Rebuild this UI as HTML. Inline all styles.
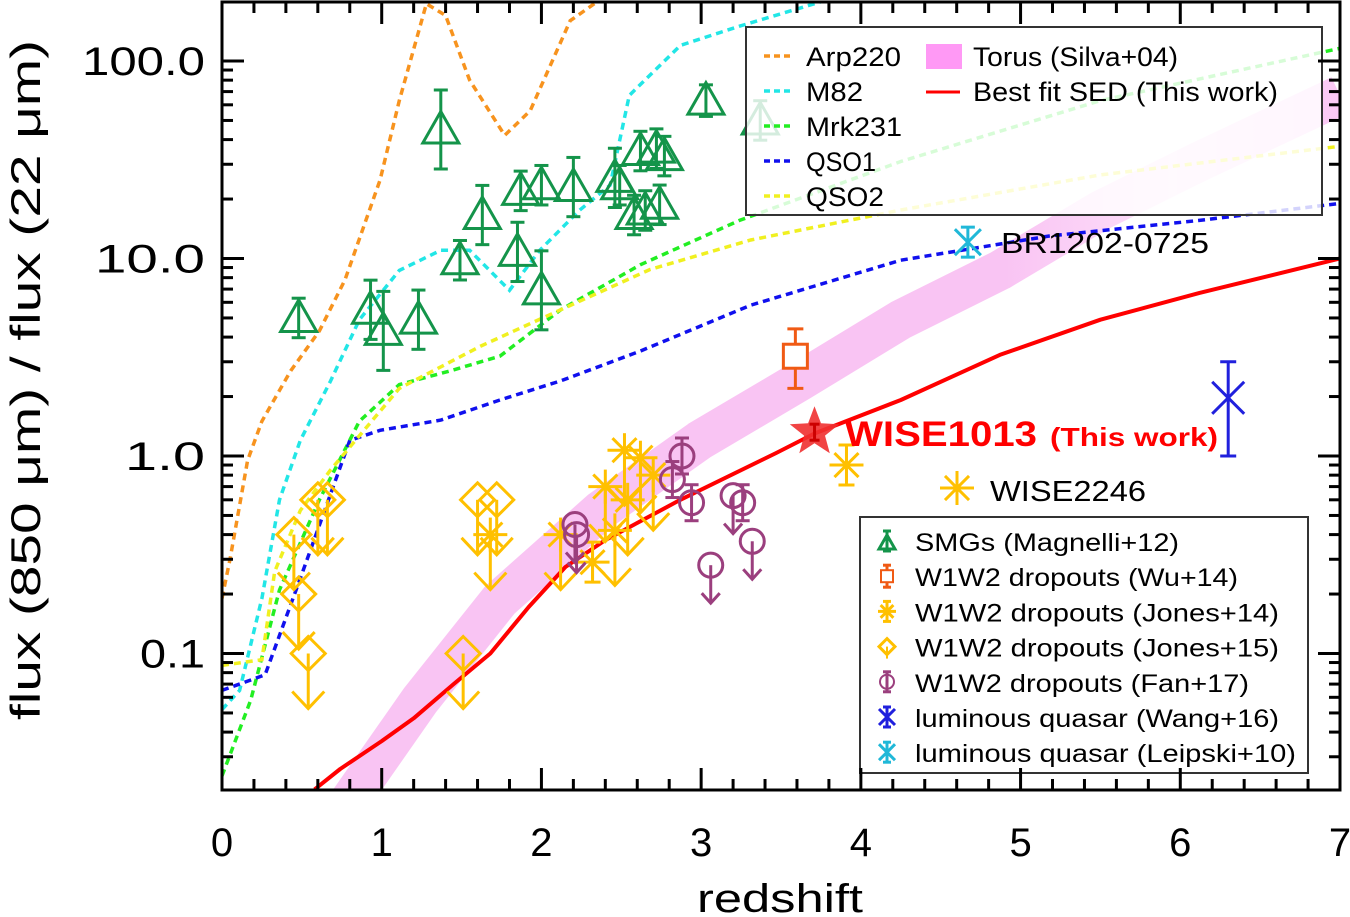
<!DOCTYPE html>
<html><head><meta charset="utf-8"><style>
html,body{margin:0;padding:0;background:#fff;}
svg{display:block;font-family:"Liberation Sans",sans-serif;}
</style></head><body>
<svg id="chart" width="1350" height="917" viewBox="0 0 1350 917">
<defs>
<linearGradient id="torusGrad" gradientUnits="userSpaceOnUse" x1="222" y1="0" x2="1340" y2="0">
<stop offset="0" stop-color="#f9c4f3"/><stop offset="0.7" stop-color="#f9c4f3"/><stop offset="0.85" stop-color="#fde0fa"/><stop offset="1" stop-color="#fbc8f5"/>
</linearGradient>
<clipPath id="plotClip"><rect x="222" y="2" width="1118" height="788"/></clipPath>
</defs>
<g id="plot" clip-path="url(#plotClip)"></g>
<g id="legend1"></g>
<g id="legend2"></g>
<g id="axes"></g>
</svg>
<script>
// ---- data ----
const arp220Z=[0,0.05,0.16,0.25,0.43,0.61,0.77,0.99,1.11,1.28,1.4,1.55,1.77,1.93,2.18,2.37];
const arp220V=[0.19,0.3,0.95,1.5,2.7,4.3,7.8,25,63,195,170,80,42,56,160,205];
const m82Z=[0,0.11,0.25,0.36,0.49,0.68,0.86,1.11,1.37,1.55,1.8,1.99,2.24,2.43,2.55,2.87,3.24,3.8];
const m82V=[0.052,0.065,0.19,0.6,1.2,2.4,4.9,8.7,11,11,6.9,11,17.6,23.5,67,120,150,205];
const mrk231Z=[0,0.18,0.36,0.61,0.86,1.11,1.43,1.74,2.12,2.62,3.24,4.25,5.5,7];
const mrk231V=[0.024,0.058,0.21,0.6,1.5,2.3,2.7,3.2,5.5,9.3,15.6,31,63,116];
const qso1Z=[0,0.27,0.49,0.8,0.99,1.37,1.74,2.12,2.62,3.31,4.25,5.18,6.12,7];
const qso1V=[0.065,0.078,0.24,1.2,1.35,1.52,1.92,2.4,3.4,5.8,9.8,13,15.6,19];
const qso2Z=[0,0.25,0.33,0.49,0.68,1.11,1.62,2.12,2.68,3.31,4.25,5.5,7];
const qso2V=[0.087,0.093,0.26,0.53,0.85,2.2,3.6,5.5,8.8,12.4,17.6,26.5,37];
const bestZ=[0.58,0.74,1.0,1.2,1.45,1.68,1.92,2.15,2.4,2.87,3.47,3.71,4.25,4.87,5.5,6.12,7];
const bestV=[0.0205,0.026,0.036,0.047,0.07,0.1,0.172,0.274,0.375,0.6,1.035,1.3,1.92,3.25,4.9,6.7,10];
const torusZ=[0.8,1.24,1.74,2.37,2.99,3.62,4.25,4.87,5.5,6.12,7];
const torusV=[0.018,0.058,0.187,0.53,1.2,2.4,4.9,8.7,17.5,31,67];
const smgZ=[0.48,0.93,1.01,1.23,1.37,1.49,1.63,1.85,1.87,2.0,2.0,2.2,2.46,2.49,2.58,2.62,2.65,2.72,2.74,2.77,3.03,3.37];
const smgV=[5.0,5.5,4.3,4.9,45,9.8,16.6,10.8,22,23.5,6.9,23,25.6,23.5,16.6,35,17.5,36,18.7,33,63,50];
const smgErr=[0.1,0.15,0.2,0.15,0.2,0.1,0.15,0.15,0.1,0.1,0.2,0.15,0.15,0.1,0.1,0.1,0.1,0.1,0.1,0.1,0.08,0.1];
const wuZ=[3.59], wuV=[3.2], wuLo=[2.2], wuHi=[4.4];
const wangZ=[6.3], wangV=[1.97], wangLo=[1.0], wangHi=[3.0];
const leipZ=[4.67], leipV=[12.1];
const jones14Z=[1.68,2.12,2.32,2.4,2.52,2.62,2.54,2.7,2.46,3.91];
const jones14V=[0.4,0.4,0.29,0.7,1.07,0.98,0.6,0.8,0.42,0.9];
const jones14Lim=[1,1,0,1,1,1,1,1,1,0];
const jones15Z=[0.45,0.48,0.54,0.6,0.66,1.6,1.72,1.51];
const jones15V=[0.4,0.2,0.1,0.6,0.6,0.6,0.6,0.1];
const fanZ=[2.21,2.22,2.88,2.82,2.94,3.06,3.2,3.26,3.32];
const fanV=[0.45,0.4,1.0,0.76,0.58,0.28,0.63,0.58,0.37];
const fanLim=[1,1,0,0,0,1,1,0,1];
const starZ=[3.71], starV=[1.32];
const xTicks=[0,1,2,3,4,5,6,7];
const yTicks=[0.1,1,10,100];
const yTickLabels=["0.1","1.0","10.0","100.0"];
// ---- axes ----
const X0=222,X1=1340,Y0=2,Y1=790;
const xs=z=>X0+z*(X1-X0)/7;
const ys=v=>456-197.5*Math.log10(v);
const NS="http://www.w3.org/2000/svg";
function mk(tag,attrs,parent){const e=document.createElementNS(NS,tag);for(const k in attrs)e.setAttribute(k,attrs[k]);parent.appendChild(e);return e;}
const plot=document.getElementById('plot');
const axes=document.getElementById('axes');
function poly(Z,V){return Z.map((z,i)=>xs(z).toFixed(1)+','+ys(V[i]).toFixed(1)).join(' ');}
let tor=mk('polyline',{points:poly(torusZ,torusV),fill:'none',stroke:'url(#torusGrad)','stroke-width':40,'stroke-linejoin':'round'},plot);


const tmpl=[[arp220Z,arp220V,'#f7931e','arp220-line'],[m82Z,m82V,'#22e6e6','m82-line'],[mrk231Z,mrk231V,'#22ee22','mrk231-line'],[qso1Z,qso1V,'#1010ee','qso1-line'],[qso2Z,qso2V,'#f0f020','qso2-line']];
tmpl.forEach(t=>{const p=mk('polyline',{points:poly(t[0],t[1]),fill:'none',stroke:t[2],'stroke-width':3.5,'stroke-dasharray':'7 5'},plot);

});
let best=mk('polyline',{points:poly(bestZ,bestV),fill:'none',stroke:'#ff0000','stroke-width':4,'stroke-linejoin':'round'},plot);


const G='#14944a',Y='#ffc000',P='#9b3f7e';
function arrow(g,x,y,c){mk('line',{x1:x,y1:y,x2:x,y2:y+55,stroke:c,'stroke-width':3},g);mk('polyline',{points:`${x-16},${y+38} ${x},${y+55} ${x+16},${y+38}`,fill:'none',stroke:c,'stroke-width':3},g);}
function errbar(g,x,yl,yh,c,w){mk('line',{x1:x,y1:yl,x2:x,y2:yh,stroke:c,'stroke-width':3},g);mk('line',{x1:x-w,y1:yl,x2:x+w,y2:yl,stroke:c,'stroke-width':3},g);mk('line',{x1:x-w,y1:yh,x2:x+w,y2:yh,stroke:c,'stroke-width':3},g);}
function tri(g,x,y,c,s){mk('polygon',{points:`${x},${y-s} ${x-s},${y+s*0.75} ${x+s},${y+s*0.75}`,fill:'none',stroke:c,'stroke-width':3},g);}
function diamond(g,x,y,c,s){mk('polygon',{points:`${x},${y-s} ${x+s},${y} ${x},${y+s} ${x-s},${y}`,fill:'none',stroke:c,'stroke-width':3},g);}
function aster(g,x,y,c,s){for(let a=0;a<4;a++){const t=a*Math.PI/4;mk('line',{x1:x-s*Math.cos(t),y1:y-s*Math.sin(t),x2:x+s*Math.cos(t),y2:y+s*Math.sin(t),stroke:c,'stroke-width':3},g);}}
function cross(g,x,y,c,s){mk('line',{x1:x-s,y1:y-s,x2:x+s,y2:y+s,stroke:c,'stroke-width':3},g);mk('line',{x1:x-s,y1:y+s,x2:x+s,y2:y-s,stroke:c,'stroke-width':3},g);}
smgZ.forEach((z,i)=>{const g=mk('g',{},plot);


const x=xs(z),y=ys(smgV[i]);errbar(g,x,y-197.5*smgErr[i],y+197.5*smgErr[i],G,7);tri(g,x,y,G,18);});
jones15Z.forEach((z,i)=>{const g=mk('g',{},plot);


const x=xs(z),y=ys(jones15V[i]);diamond(g,x,y,Y,17);arrow(g,x,y,Y);});
jones14Z.forEach((z,i)=>{const g=mk('g',{},plot);


const x=xs(z),y=ys(jones14V[i]);aster(g,x,y,Y,17);if(jones14Lim[i])arrow(g,x,y,Y);else errbar(g,x,y-20,y+20,Y,8);});
fanZ.forEach((z,i)=>{const g=mk('g',{},plot);


const x=xs(z),y=ys(fanV[i]);mk('circle',{cx:x,cy:y,r:12,fill:'none',stroke:P,'stroke-width':3},g);
if(fanLim[i]){mk('line',{x1:x,y1:y,x2:x,y2:y+38,stroke:P,'stroke-width':3},g);mk('polyline',{points:`${x-9},${y+28} ${x},${y+38} ${x+9},${y+28}`,fill:'none',stroke:P,'stroke-width':3},g);}
else errbar(g,x,y-18,y+18,P,7);});
wuZ.forEach((z,i)=>{const g=mk('g',{},plot);


const x=xs(z);errbar(g,x,ys(wuLo[i]),ys(wuHi[i]),'#f05a14',8);mk('rect',{x:x-12,y:ys(wuV[i])-12,width:24,height:24,fill:'#fff',stroke:'#f05a14','stroke-width':3},g);});
wangZ.forEach((z,i)=>{const g=mk('g',{},plot);


const x=xs(z);errbar(g,x,ys(wangLo[i]),ys(wangHi[i]),'#2020dd',8);cross(g,x,ys(wangV[i]),'#2020dd',16);});
leipZ.forEach((z,i)=>{const g=mk('g',{},plot);


const x=xs(z),y=ys(leipV[i]);errbar(g,x,y-15,y+15,'#20b8d8',7);cross(g,x,y,'#20b8d8',13);});
starZ.forEach((z,i)=>{const x=xs(z),y=ys(starV[i]);let pts=[];for(let k=0;k<10;k++){const r=k%2?11:26,a=-Math.PI/2+k*Math.PI/5;pts.push((x+r*Math.cos(a)).toFixed(1)+','+(y+r*Math.sin(a)).toFixed(1));}
const s=mk('polygon',{points:pts.join(' '),fill:'#f03030','fill-opacity':0.9},plot);


errbar(plot,x,y-8,y+8,'#c00',5);});
function txt(p,x,y,s,attrs,name,len){const t=mk('text',Object.assign({x:x,y:y},attrs),p);t.textContent=s;
if(len){t.setAttribute('textLength',len);t.setAttribute('lengthAdjust','spacingAndGlyphs');}

return t;}
txt(plot,845,446,'WISE1013',{'font-size':35,'font-weight':'bold',fill:'#ff0000'},'wise1013-label',192);
txt(plot,1050,446,'(This work)',{'font-size':26,'font-weight':'bold',fill:'#ff0000'},'this-work-label',168);
aster(plot,957,488,Y,17);
txt(plot,990,501,'WISE2246',{'font-size':29,fill:'#000'},'wise2246-label',156);
txt(plot,1001,253,'BR1202-0725',{'font-size':29,fill:'#000'},'br1202-label',208);
// legend 1
const L1=document.getElementById('legend1');
let r1=mk('rect',{x:746,y:27,width:576,height:188,fill:'#fff','fill-opacity':0.82,stroke:'#333','stroke-width':2},L1);


const leg1=[['Arp220','#f7931e',95],['M82','#22e6e6',57],['Mrk231','#22ee22',96],['QSO1','#1010ee',70],['QSO2','#f0f020',78]];
leg1.forEach((l,i)=>{const y=56+i*35;mk('line',{x1:764,y1:y,x2:792,y2:y,stroke:l[1],'stroke-width':3.5,'stroke-dasharray':'6 4'},L1);txt(L1,806,y+10,l[0],{'font-size':27},'legend-entry',l[2]);});
mk('rect',{x:926,y:44,width:36,height:25,fill:'#ff99f5'},L1);
txt(L1,973,66,'Torus (Silva+04)',{'font-size':27},'legend-entry',205);
mk('line',{x1:926,y1:92,x2:960,y2:92,stroke:'#ff0000','stroke-width':3},L1);
txt(L1,973,101,'Best fit SED (This work)',{'font-size':27},'legend-entry',305);
// legend 2
const L2=document.getElementById('legend2');
let r2=mk('rect',{x:860,y:517,width:448,height:256,fill:'#fff',stroke:'#333','stroke-width':2},L2);


const leg2=['SMGs (Magnelli+12)','W1W2 dropouts (Wu+14)','W1W2 dropouts (Jones+14)','W1W2 dropouts (Jones+15)','W1W2 dropouts (Fan+17)','luminous quasar (Wang+16)','luminous quasar (Leipski+10)'];
const leg2Len=[264,323,364,364,334,364,381];
leg2.forEach((s,i)=>{const y=541+i*35.2,x=887;const g=mk('g',{},L2);
if(i==0){errbar(g,x,y-10,y+10,G,4);tri(g,x,y+2,G,8);}
if(i==1){errbar(g,x,y-11,y+11,'#f05a14',4);mk('rect',{x:x-6,y:y-6,width:12,height:12,fill:'#fff',stroke:'#f05a14','stroke-width':2},g);}
if(i==2){errbar(g,x,y-10,y+10,Y,4);aster(g,x,y,Y,9);}
if(i==3){mk('line',{x1:x,y1:y,x2:x,y2:y+12,stroke:Y,'stroke-width':2},g);diamond(g,x,y,Y,8);}
if(i==4){errbar(g,x,y-10,y+10,P,4);mk('circle',{cx:x,cy:y,r:7,fill:'none',stroke:P,'stroke-width':2},g);}
if(i==5){errbar(g,x,y-10,y+10,'#2020dd',4);cross(g,x,y,'#2020dd',8);}
if(i==6){errbar(g,x,y-10,y+10,'#20b8d8',4);cross(g,x,y,'#20b8d8',8);}
txt(L2,915,y+10,s,{'font-size':25},'legend-entry',leg2Len[i]);});
// axes
mk('rect',{x:X0,y:Y0,width:X1-X0,height:Y1-Y0,fill:'none',stroke:'#000','stroke-width':3},axes);
for(let z=0;z<=7.001;z+=0.2){const x=xs(z),maj=Math.abs(z-Math.round(z))<0.01,l=maj?22:11;
mk('line',{x1:x,y1:Y1,x2:x,y2:Y1-l,stroke:'#000','stroke-width':3},axes);mk('line',{x1:x,y1:Y0,x2:x,y2:Y0+l,stroke:'#000','stroke-width':3},axes);}
xTicks.forEach(z=>txt(axes,xs(z),856,String(z),{'font-size':40,'text-anchor':'middle'},'x-tick-label'));
for(let d=-2;d<=2;d++)for(let m=1;m<=9;m++){const v=m*Math.pow(10,d);const y=ys(v);if(y<Y0||y>Y1)continue;const l=m==1?22:11;
mk('line',{x1:X0,y1:y,x2:X0+l,y2:y,stroke:'#000','stroke-width':3},axes);mk('line',{x1:X1,y1:y,x2:X1-l,y2:y,stroke:'#000','stroke-width':3},axes);}
const yLabLen=[65,80,110,123];
yTicks.forEach((v,i)=>txt(axes,205,ys(v)+14,yTickLabels[i],{'font-size':40,'text-anchor':'end'},'y-tick-label',yLabLen[i]));
txt(axes,780,912,'redshift',{'font-size':40,'text-anchor':'middle'},'x-axis-title',166);
txt(axes,0,0,'flux (850 \u03bcm) / flux (22 \u03bcm)',{'font-size':42,'text-anchor':'middle','transform':'translate(40,380) rotate(-90)'},'y-axis-title',680);
</script>
</body></html>
